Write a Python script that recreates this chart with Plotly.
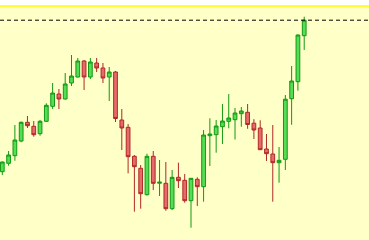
import plotly.graph_objects as go

# Bar index (one per period)
idx = list(range(49))

open_ = [1.06366, 1.06534, 1.06686, 1.0698, 1.07354, 1.07274, 1.07126, 1.07374, 1.07674, 1.0792,
         1.0782, 1.0814, 1.0826, 1.0858, 1.0826, 1.0854, 1.0844, 1.0826, 1.0836, 1.074,
         1.07254, 1.06674, 1.06434, 1.05906, 1.06674, 1.06136, 1.06134, 1.05626, 1.06254, 1.06194,
         1.05786, 1.06214, 1.06066, 1.07086, 1.07106, 1.07266, 1.07374, 1.07406, 1.07526, 1.07554,
         1.07336, 1.0724, 1.0682, 1.0672, 1.06546, 1.06614, 1.07826, 1.08166, 1.09086]
high = [1.0657, 1.0678, 1.073, 1.0737, 1.0748, 1.0738, 1.074, 1.07734, 1.0814, 1.0802,
        1.0834, 1.087, 1.0864, 1.086, 1.0864, 1.0864, 1.0854, 1.0846, 1.0838, 1.0762,
        1.0732, 1.067, 1.065, 1.06726, 1.0678, 1.066, 1.0656, 1.064, 1.06546, 1.0632,
        1.0624, 1.06254, 1.072, 1.07434, 1.074, 1.0772, 1.0792, 1.0764, 1.0766, 1.0772,
        1.07416, 1.07394, 1.0712, 1.073, 1.0686, 1.079, 1.0848, 1.0911, 1.09466]
low = [1.063, 1.06486, 1.06586, 1.06954, 1.0724, 1.07066, 1.07086, 1.0736, 1.0762, 1.0762,
       1.0781, 1.0808, 1.0825, 1.08, 1.0822, 1.0836, 1.0814, 1.0778, 1.0736, 1.068,
       1.06334, 1.05566, 1.05626, 1.0589, 1.06, 1.0588, 1.05586, 1.056, 1.0604, 1.05746,
       1.05246, 1.0568, 1.05766, 1.0648, 1.06746, 1.0692, 1.07234, 1.0701, 1.07266, 1.07224,
       1.0702, 1.068, 1.0658, 1.05766, 1.06146, 1.064, 1.07304, 1.07986, 1.088]
close = [1.0656, 1.067, 1.07, 1.07354, 1.07286, 1.07106, 1.07374, 1.07694, 1.0794, 1.0782,
         1.0812, 1.0828, 1.0858, 1.0826, 1.0856, 1.0844, 1.0824, 1.0836, 1.0743, 1.0724,
         1.06666, 1.06466, 1.05926, 1.06674, 1.06134, 1.06156, 1.05626, 1.06254, 1.06186, 1.05786,
         1.06234, 1.06066, 1.071, 1.0712, 1.0728, 1.0738, 1.0744, 1.0754, 1.0758, 1.0731,
         1.072, 1.06806, 1.06726, 1.06546, 1.06594, 1.07816, 1.0818, 1.091, 1.09396]

fig = go.Figure(go.Candlestick(
    x=idx, open=open_, high=high, low=low, close=close,
    increasing=dict(fillcolor="#55dd55", line=dict(color="#119911", width=1)),
    decreasing=dict(fillcolor="#e66a6a", line=dict(color="#b02828", width=1)),
    whiskerwidth=0,
    hoverinfo="skip",
))

last_price = close[-1]
fig.add_shape(type="line", xref="paper", x0=0, x1=1, yref="y", y0=last_price, y1=last_price,
              line=dict(color="black", width=1, dash="4px,3px"), layer="above")
fig.add_shape(type="line", xref="paper", x0=0, x1=1, yref="paper", y0=1, y1=1,
              line=dict(color="#ffff00", width=1.5), layer="above")

fig.update_layout(
    width=369, height=240,
    margin=dict(l=0, r=0, t=6, b=0),
    paper_bgcolor="white",
    plot_bgcolor="#ffffc8",
    showlegend=False,
    boxgap=0.15, boxgroupgap=0.3,
    xaxis=dict(range=[-0.366, 58.3], visible=False, rangeslider=dict(visible=False),
               showgrid=False, zeroline=False),
    yaxis=dict(range=[1.05, 1.0968], visible=False, showgrid=False, zeroline=False),
)

fig.write_html("out.html")
